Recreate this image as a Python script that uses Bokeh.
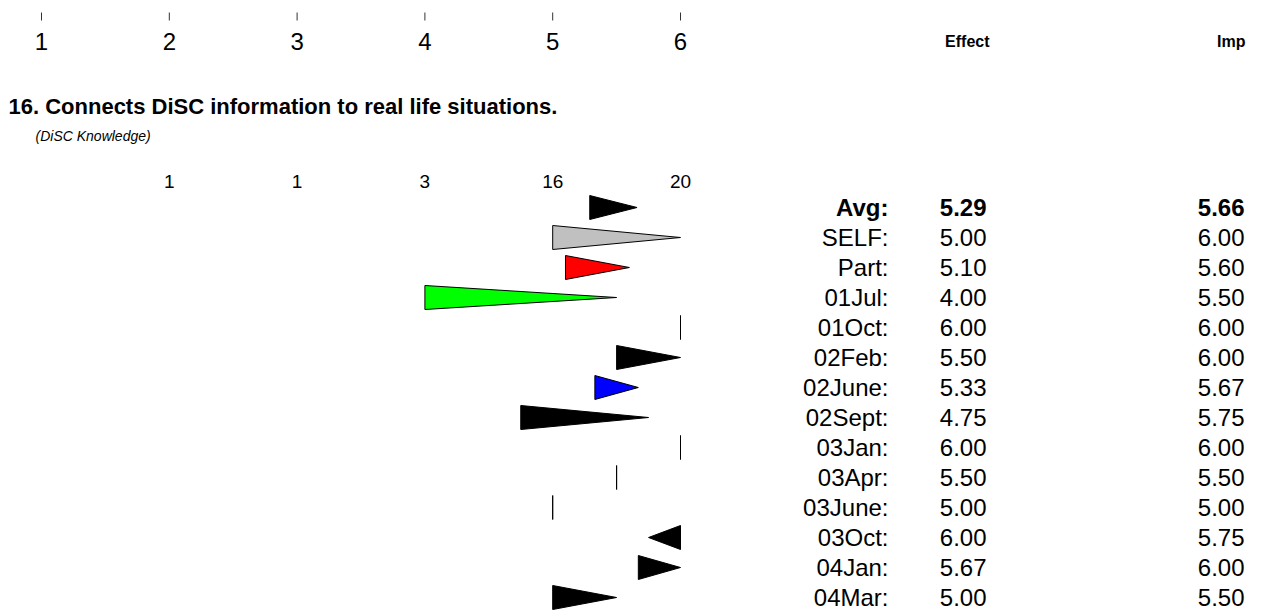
from bokeh.plotting import figure
from bokeh.models import Range1d, ColumnDataSource
from bokeh.embed import file_html
from bokeh.resources import INLINE
from bokeh.core.properties import value

# ---------------- data ----------------
scale_ticks = [1, 2, 3, 4, 5, 6]
count_scores = [2, 3, 4, 5, 6]
counts = [1, 1, 3, 16, 20]
row_labels = ["Avg:", "SELF:", "Part:", "01Jul:", "01Oct:", "02Feb:", "02June:",
              "02Sept:", "03Jan:", "03Apr:", "03June:", "03Oct:", "04Jan:", "04Mar:"]
effect = [5.29, 5.00, 5.10, 4.00, 6.00, 5.50, 5.33, 4.75, 6.00, 5.50, 5.00, 6.00, 5.67, 5.00]
imp = [5.66, 6.00, 5.60, 5.50, 6.00, 6.00, 5.67, 5.75, 6.00, 5.50, 5.00, 5.75, 6.00, 5.50]
fill_colors = ["black", "#c0c0c0", "red", "#00ff00", "black", "black", "blue",
               "black", "black", "black", "black", "black", "black", "black"]
title_text = "16. Connects DiSC information to real life situations."
subtitle_text = "(DiSC Knowledge)"
col_headers = ["Effect", "Imp"]

# ---------------- layout ----------------
W, H = 1261, 612
PAGE = 0       # observed: figure starts at the page's top-left corner
X1 = 41.0      # page x of score 1
DX = 127.8     # px per score unit
Y0 = 207.0     # page y of first row centre
DY = 30.0      # px per row
HALF = 0.4     # half triangle height (rows)

def sx(page_x):
    return 1 + (page_x - X1) / DX

def sy(page_y):
    return (page_y - Y0) / DY

FONT = value("Liberation Sans")

p = figure(width=W, height=H, output_backend="svg", toolbar_location=None,
           x_range=Range1d(sx(PAGE), sx(PAGE + W)),
           y_range=Range1d(sy(PAGE + H), sy(PAGE)),
           min_border=0, outline_line_color=None)
p.axis.visible = False
p.grid.visible = False
p.background_fill_color = "white"

# top scale ticks and labels
p.segment(x0=scale_ticks, x1=scale_ticks, y0=[sy(12)] * 6, y1=[sy(20)] * 6,
          line_color="#333333", line_width=1)
p.text(x=scale_ticks, y=[sy(41)] * 6, text=[str(t) for t in scale_ticks],
       text_font=FONT, text_font_size="24px", text_align="center",
       text_baseline="middle", text_color="black")

# column headers
p.text(x=[sx(989), sx(1245)], y=[sy(41)] * 2, text=col_headers,
       text_font=FONT, text_font_size="16px", text_font_style="bold",
       text_align="right", text_baseline="middle", text_color="black")

# title and subtitle
p.text(x=[sx(8)], y=[sy(106)], text=[title_text], text_font=FONT,
       text_font_size="22px", text_font_style="bold", text_align="left",
       text_baseline="middle", text_color="black")
p.text(x=[sx(35)], y=[sy(135)], text=[subtitle_text], text_font=FONT,
       text_font_size="14px", text_font_style="italic", text_align="left",
       text_baseline="middle", text_color="black")

# counts
p.text(x=count_scores, y=[sy(181)] * len(counts), text=[str(c) for c in counts],
       text_font=FONT, text_font_size="19px", text_align="center",
       text_baseline="middle", text_color="black")

# triangles
rows = list(range(len(row_labels)))
xs = [[e, e, i] for e, i in zip(effect, imp)]
ys = [[r - HALF, r + HALF, r] for r in rows]
p.patches(xs=xs, ys=ys, fill_color=fill_colors, line_color="black", line_width=1)

# table text
styles = ["bold"] + ["normal"] * (len(rows) - 1)
src = ColumnDataSource(dict(
    y=rows,
    lab=row_labels,
    eff=["%.2f" % v for v in effect],
    imp=["%.2f" % v for v in imp],
    style=styles,
    lx=[sx(888)] * len(rows),
    ex=[sx(986)] * len(rows),
    ix=[sx(1244)] * len(rows),
))
for col, xcol in (("lab", "lx"), ("eff", "ex"), ("imp", "ix")):
    p.text(x=xcol, y="y", text=col, source=src, text_font=FONT,
           text_font_size="24px", text_font_style="style", text_align="right",
           text_baseline="middle", text_color="black")

open("out.html", "w").write(file_html(p, INLINE))
